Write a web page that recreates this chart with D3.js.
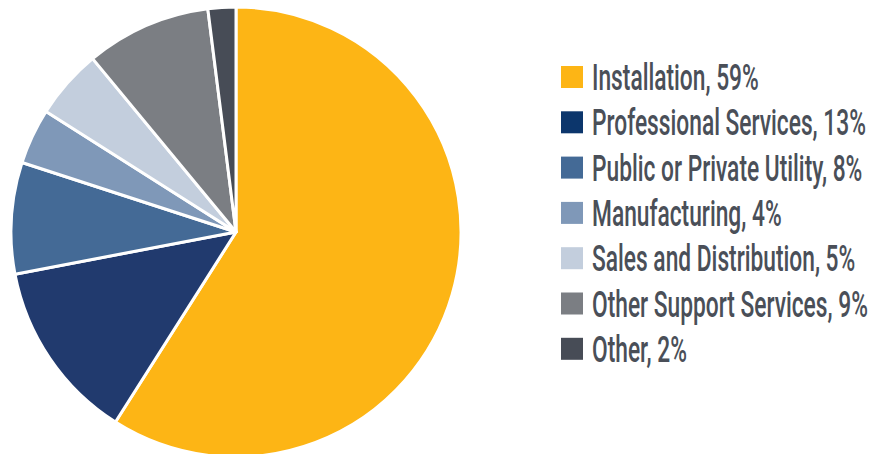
<!DOCTYPE html>
<html>
<head>
<meta charset="utf-8">
<script src="https://cdn.jsdelivr.net/npm/d3@7"></script>
<style>
  html, body { margin: 0; padding: 0; background: #ffffff; }
  svg { display: block; }
</style>
</head>
<body>
<svg id="chart" width="879" height="454"></svg>
<script>
// Share of respondents by sector
const categories = [
  "Installation",
  "Professional Services",
  "Public or Private Utility",
  "Manufacturing",
  "Sales and Distribution",
  "Other Support Services",
  "Other"
];
const shares = [59, 13, 8, 4, 5, 9, 2];
const sliceColors = ["#fdb515", "#213a6e", "#446a96", "#7f98b8", "#c3cedd", "#7b7e83", "#474c56"];
const swatchColors = ["#fdb515", "#0c366c", "#446a96", "#7f98b8", "#c3cedd", "#7b7e83", "#474c56"];

const data = categories.map((c, i) => ({ name: c, value: shares[i], color: sliceColors[i], swatch: swatchColors[i] }));

const svg = d3.select("#chart");

const cx = 236, cy = 232, radius = 225;

const pie = d3.pie()
  .value(d => d.value)
  .sort(null)
  .startAngle(0)
  .endAngle(2 * Math.PI);

const arc = d3.arc().innerRadius(0).outerRadius(radius);

svg.append("g")
  .attr("transform", `translate(${cx},${cy})`)
  .selectAll("path")
  .data(pie(data))
  .join("path")
  .attr("d", arc)
  .attr("fill", d => d.data.color)
  .attr("stroke", "#ffffff")
  .attr("stroke-width", 3)
  .attr("stroke-linejoin", "round");

// Legend
const legendX = 561, legendY = 77, rowStep = 45.3, box = 22;
const textX = 592, textRight = 868;
const rowScale = d3.scaleLinear().domain([0, 1]).range([legendY, legendY + rowStep]);

const rows = svg.append("g")
  .selectAll("g")
  .data(data)
  .join("g")
  .attr("transform", (d, i) => `translate(${legendX},${rowScale(i)})`);

rows.append("rect")
  .attr("x", 0)
  .attr("y", -box / 2)
  .attr("width", box)
  .attr("height", box)
  .attr("fill", d => d.swatch);

const labelWrap = rows.append("g");
const labels = labelWrap.append("text")
  .attr("x", 0)
  .attr("y", 13)
  .attr("font-family", "Roboto, 'Noto Sans', sans-serif")
  .attr("font-weight", 500)
  .attr("font-size", 37)
  .attr("fill", "#4a4f58")
  .text(d => `${d.name}, ${d.value}%`);

// condense the labels horizontally so the widest one fits the legend column
const widest = d3.max(labels.nodes(), n => n.getComputedTextLength());
const sx = (textRight - textX) / widest;
labelWrap.attr("transform", `translate(${textX - legendX},0) scale(${sx},1)`);
</script>
</body>
</html>
